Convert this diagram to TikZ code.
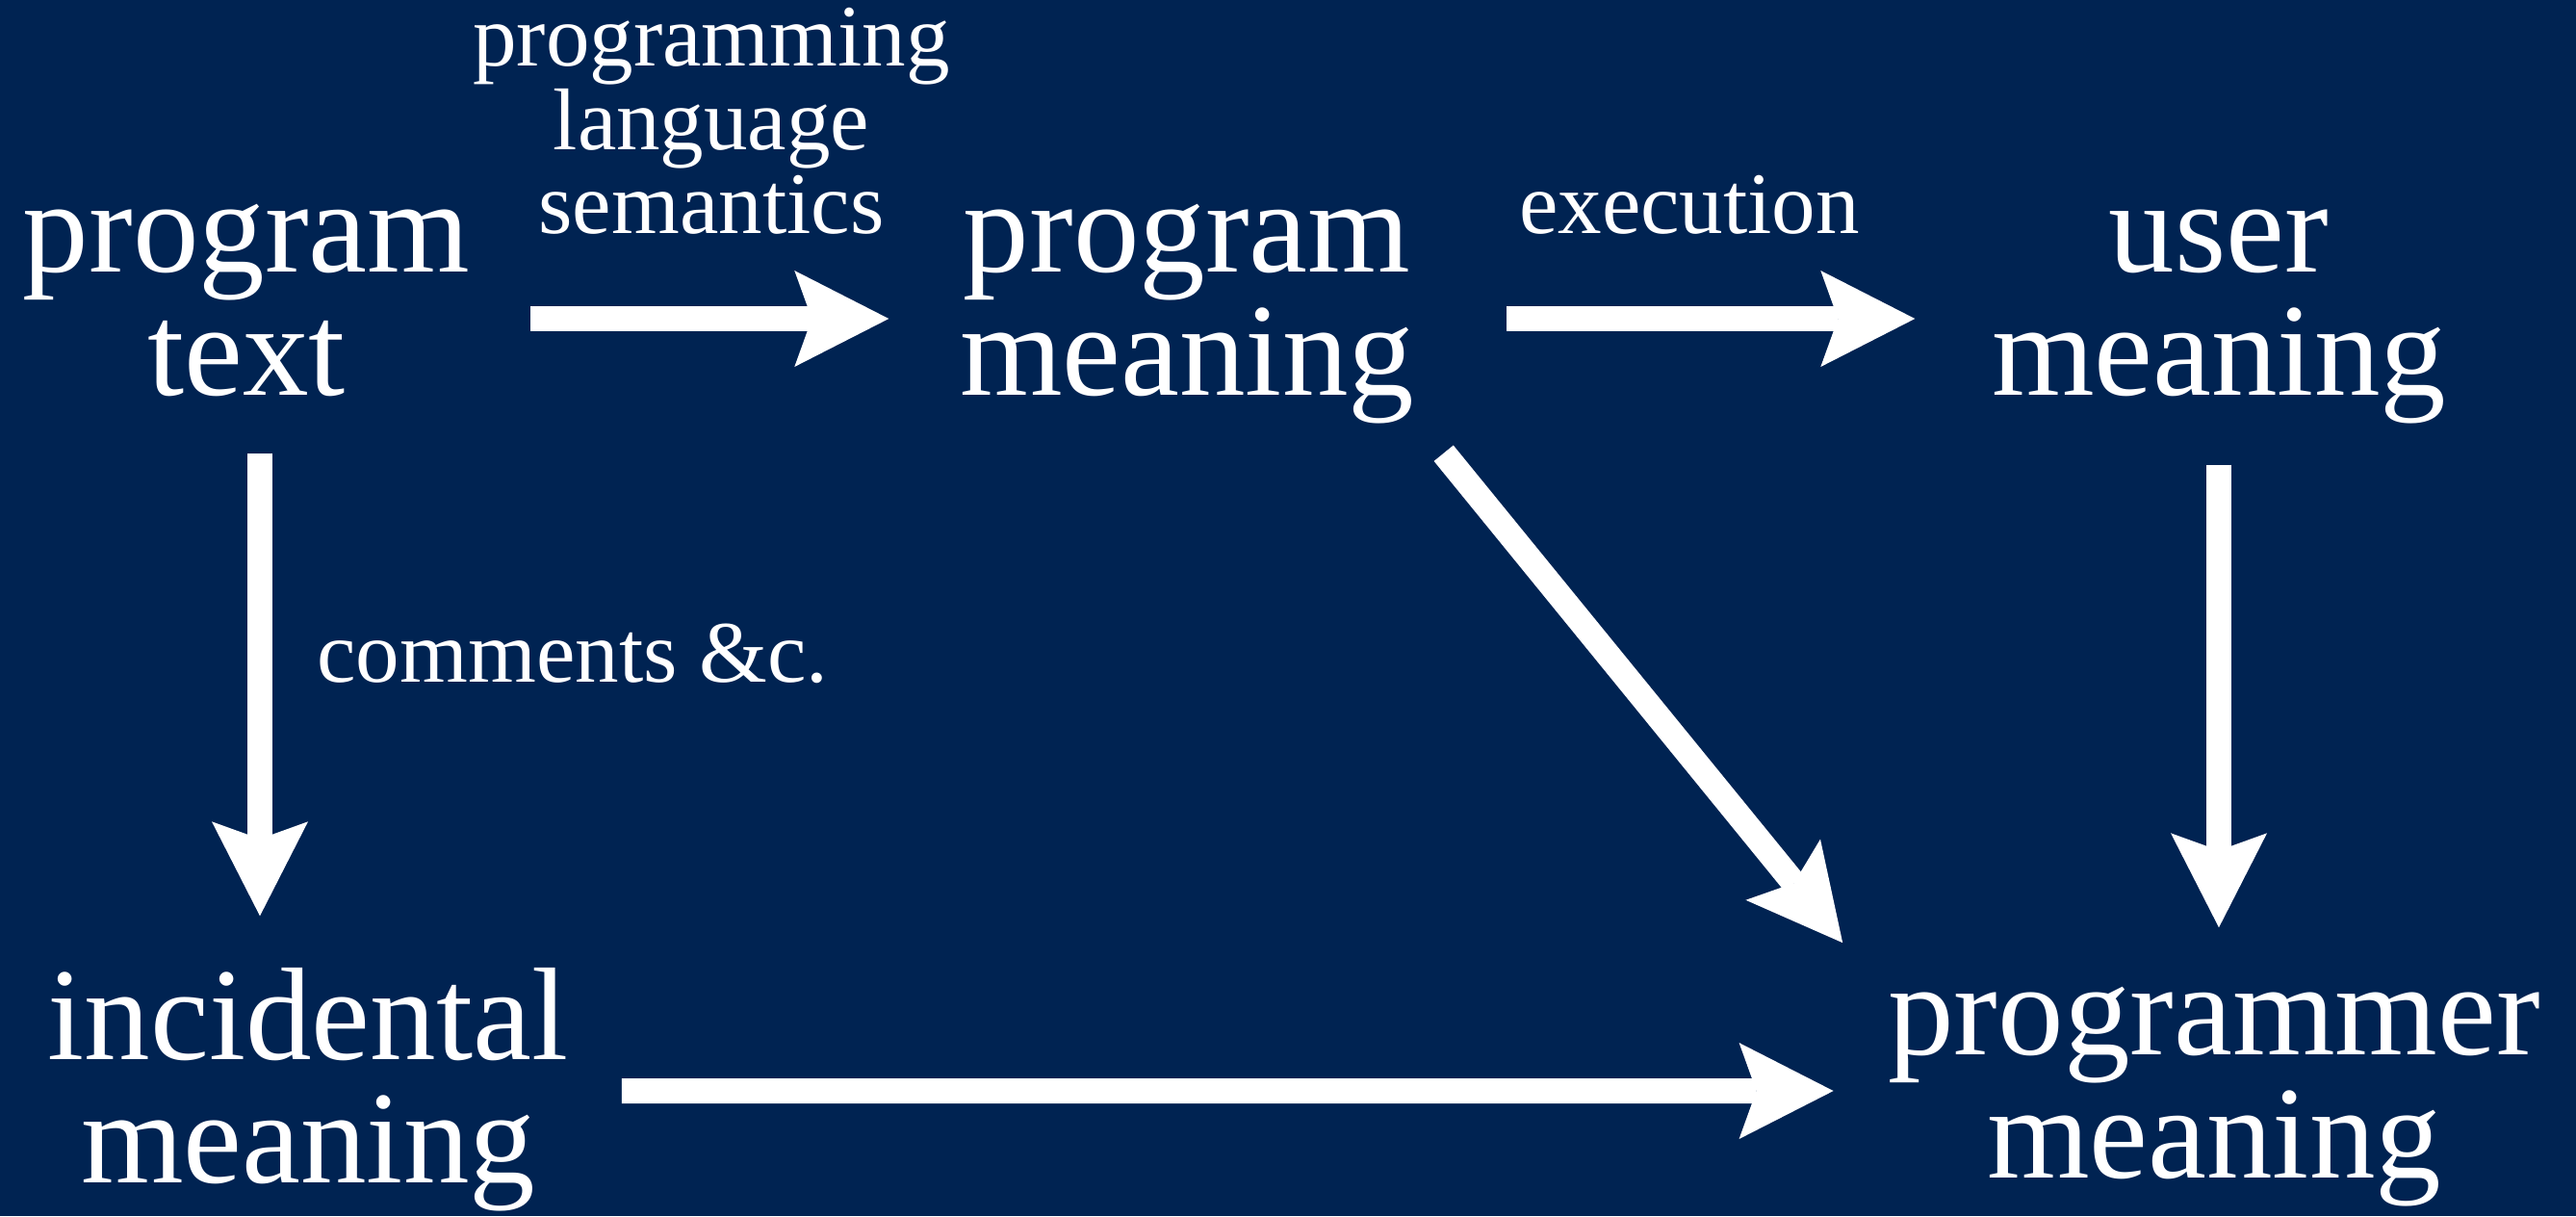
\documentclass[tikz,border=0pt]{standalone}
\usepackage{fontspec}
\setmainfont{Liberation Serif}
\usetikzlibrary{arrows.meta}
\definecolor{navy}{RGB}{0,35,82}
\newcommand\bigfont{\fontsize{39pt}{36.4pt}\selectfont}
\newcommand\smallfont{\fontsize{25.9pt}{24.7pt}\selectfont}
\tikzset{
  concept/.style={font=\bigfont, text=white, align=center, inner sep=0.3cm, anchor=base},
  note/.style={font=\smallfont, text=white, align=center, inner sep=0pt, anchor=base},
  conn/.style={draw=white, line width=0.26cm,
    -{Stealth[length=0.98cm, width=1.0cm, inset=0.18cm, line width=0pt]}}
}
\begin{document}
\begin{tikzpicture}
\useasboundingbox (0,0) rectangle (26.76,-12.63);
\fill[navy] (0,0) rectangle (26.76,-12.63);
% anchor base sits on the last line
\begin{scope}[text height=1.88cm, text depth=0.3cm]
\node[concept] (pt) at (2.56,-4.10) {program\\text};
\node[concept] (pm) at (12.33,-4.10) {program\\meaning};
\node[concept] (um) at (23.05,-4.10) {user\\meaning};
\end{scope}
\node[concept, text height=2.26cm, text depth=0.36cm] (im) at (3.20,-12.28) {incidental\\meaning};
\node[concept, text height=1.93cm, text depth=0.13cm] (prm) at (23.00,-12.23) {programmer\\meaning};
\node[note] (sem) at (7.39,-2.42) {programming\\language\\semantics};
\node[note] (exec) at (17.55,-2.42) {execution};
\node[note] (cmt) at (5.95,-7.08) {comments \&c.};
\draw[conn, shorten <=0.32cm, shorten >=0.43cm] (pt.east) -- (pm.west);
\draw[conn, shorten <=0.65cm, shorten >=0.49cm] (pm.east) -- (um.west);
\draw[conn, shorten >=0.2cm] ([xshift=0.14cm]pt.south) -- ([xshift=0.14cm]pt.south |- im.north);
\draw[conn, shorten <=0.12cm, shorten >=0.36cm] (um.south) -- (um.south |- prm.north);
\draw[conn, shorten <=0.25cm, shorten >=0.26cm] (im.east) -- (prm.west);
\draw[conn, shorten >=0.26cm] (pm.south east) -- (prm.north west);
\end{tikzpicture}
\end{document}
